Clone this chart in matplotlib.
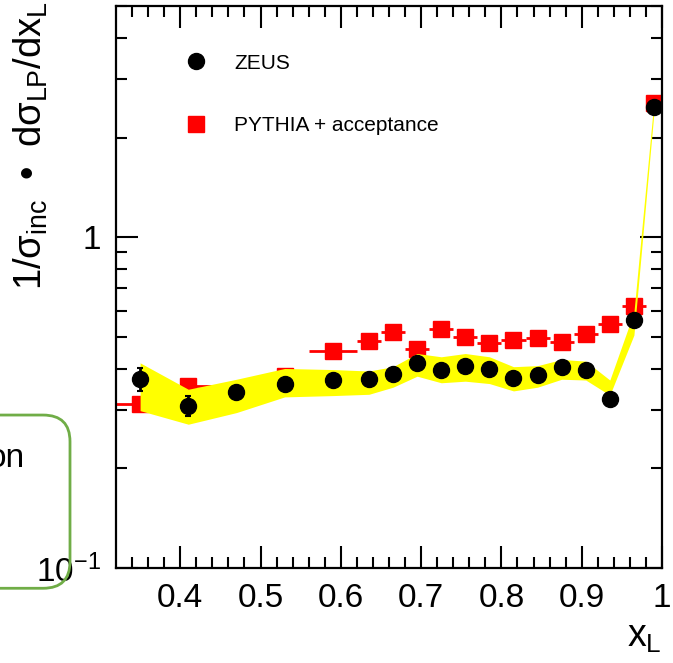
import matplotlib
matplotlib.use('Agg')
import matplotlib.pyplot as plt
from matplotlib.lines import Line2D
from matplotlib.patches import FancyBboxPatch
from matplotlib.ticker import FixedLocator

plt.rcParams['font.family'] = ['Liberation Sans', 'DejaVu Sans']
plt.rcParams['mathtext.fontset'] = 'custom'
plt.rcParams['mathtext.rm'] = 'Liberation Sans'
plt.rcParams['mathtext.it'] = 'Liberation Sans'
plt.rcParams['mathtext.bf'] = 'Liberation Sans:bold'

# x_L bins: centres and half widths
x_bins = [0.35, 0.41, 0.47, 0.53, 0.59, 0.635, 0.665, 0.695, 0.725, 0.755,
          0.785, 0.815, 0.845, 0.875, 0.905, 0.935, 0.965, 0.99]
x_halfw = [0.03, 0.03, 0.03, 0.03, 0.03, 0.015, 0.015, 0.015, 0.015, 0.015,
           0.015, 0.015, 0.015, 0.015, 0.015, 0.015, 0.015, 0.01]

# ZEUS measurement
zeus = [0.372, 0.309, 0.340, 0.359, 0.370, 0.372, 0.386, 0.418, 0.398, 0.408,
        0.399, 0.376, 0.383, 0.405, 0.397, 0.325, 0.561, 2.48]
zeus_err = [0.030, 0.021, 0.012, 0.012, 0.012, 0.012, 0.012, 0.012, 0.012, 0.012,
            0.012, 0.012, 0.012, 0.012, 0.012, 0.012, 0.02, 0.08]

# PYTHIA with acceptance applied
pythia = [0.313, 0.355, 0.340, 0.380, 0.453, 0.486, 0.518, 0.459, 0.528, 0.500,
          0.479, 0.488, 0.496, 0.481, 0.511, 0.546, 0.619, 2.55]
pythia_err = [0.005, 0.005, 0.005, 0.005, 0.006, 0.006, 0.006, 0.006, 0.006, 0.006,
              0.006, 0.006, 0.006, 0.006, 0.006, 0.007, 0.008, 0.03]

# systematic band
band_lo = [0.299, 0.272, 0.295, 0.329, 0.332, 0.335, 0.352, 0.380, 0.363, 0.367,
           0.361, 0.343, 0.352, 0.372, 0.370, 0.333, 0.506, 2.39]
band_hi = [0.417, 0.347, 0.372, 0.401, 0.398, 0.394, 0.406, 0.445, 0.435, 0.445,
           0.435, 0.406, 0.409, 0.427, 0.422, 0.370, 0.594, 2.59]

fig = plt.figure(figsize=(6.73, 6.63), dpi=100)
ax = fig.add_axes([0.1724, 0.1433, 0.8113, 0.8477])

ax.errorbar(x_bins, pythia, xerr=x_halfw, yerr=pythia_err, fmt='s', color='#ff0000',
            ms=12, elinewidth=2, capsize=0, zorder=2)
ax.fill_between(x_bins, band_lo, band_hi, color='#ffff00', lw=0, zorder=3)
ax.errorbar(x_bins, zeus, yerr=zeus_err, fmt='o', color='black',
            ms=11.5, elinewidth=2, capsize=2, capthick=1.5, zorder=4)

ax.set_yscale('log')
ax.set_xlim(0.32, 1.0)
ax.set_ylim(0.1, 5)

ax.xaxis.set_major_locator(FixedLocator([0.4, 0.5, 0.6, 0.7, 0.8, 0.9, 1.0]))
ax.set_xticklabels(['0.4', '0.5', '0.6', '0.7', '0.8', '0.9', '1'])
ax.xaxis.set_minor_locator(FixedLocator([0.34, 0.36, 0.38, 0.42, 0.44, 0.46, 0.48,
                                         0.52, 0.54, 0.56, 0.58, 0.62, 0.64, 0.66,
                                         0.68, 0.72, 0.74, 0.76, 0.78, 0.82, 0.84,
                                         0.86, 0.88, 0.92, 0.94, 0.96, 0.98]))
ax.yaxis.set_major_locator(FixedLocator([0.1, 1.0]))
ax.set_yticklabels([r'$10^{-1}$', '1'])
ax.yaxis.set_minor_locator(FixedLocator([0.2, 0.3, 0.4, 0.5, 0.6, 0.7, 0.8, 0.9,
                                         2, 3, 4, 5]))
ax.yaxis.set_minor_formatter(plt.NullFormatter())

ax.tick_params(which='both', direction='in', top=True, right=True, width=1.5,
               labelsize=24, pad=11)
ax.tick_params(which='major', length=16)
ax.tick_params(which='minor', length=8)
for sp in ax.spines.values():
    sp.set_linewidth(1.6)

handles = [Line2D([], [], ls='none', marker='o', color='black', ms=11.5),
           Line2D([], [], ls='none', marker='s', color='#ff0000', ms=11.5)]
ax.legend(handles, ['ZEUS', 'PYTHIA + acceptance'], loc='upper left',
          bbox_to_anchor=(0.127, 0.915), frameon=False, fontsize=15,
          handlelength=1.0, handletextpad=1.35, labelspacing=2.1,
          borderpad=0, borderaxespad=0, numpoints=1)

fig.text(31 / 673, 1 - 1 / 663,
         r'1/$\sigma_{inc}$ $\;$•$\;$ d$\sigma_{LP}$/d$x_{L}$',
         rotation=90, ha='center', va='top', fontsize=27.5)
fig.text(661 / 673, (663 - 647) / 663, r'$x_{L}$', ha='right', va='baseline',
         fontsize=27)

# neighbouring annotation box at the left margin
box = FancyBboxPatch((-0.3, 0.1127), 0.3 + 70 / 673, 0.2613,
                     boxstyle='round,pad=0,rounding_size=0.04',
                     transform=fig.transFigure, facecolor='none',
                     edgecolor='#70ad47', lw=2, clip_on=False)
fig.add_artist(box)
fig.text(25 / 673, (663 - 467) / 663, 'on', ha='right', va='baseline', fontsize=24)

fig.savefig('out.png', dpi=100)
